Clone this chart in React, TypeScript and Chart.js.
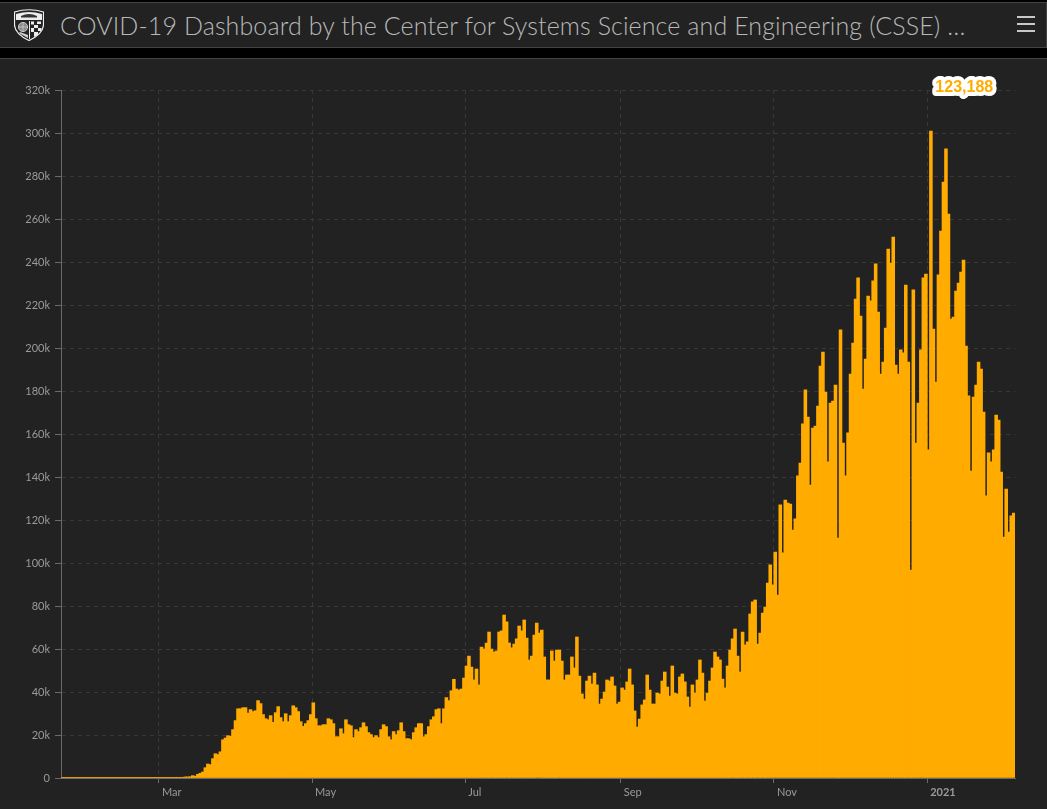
import React, { useEffect, useRef } from "react";
import { Chart, registerables } from "chart.js";

Chart.register(...registerables);

// Daily counts in thousands, first bar = 22 Jan 2020.
const winterCases = [
  0, 0, 0, 0, 0.01, 0, 0, 0, 0, 0.01,
  0, 0, 0, 0, 0.01, 0, 0, 0, 0, 0,
  0, 0, 0, 0, 0, 0, 0, 0, 0, 0,
  0.01, 0, 0, 0, 0.01, 0, 0, 0.01, 0.02, 0.02,
  0.01, 0.02, 0.03, 0.05, 0.05, 0.08, 0.1, 0.12, 0.2,
];
const springCases = [
  0.5, 0.5, 0.6, 1.1, 0.8, 1.7, 2.2, 2.8, 4.8, 6.5,
  6.2, 9.0, 11.3, 10.9, 12.2, 17.8, 18.6, 19.7, 19.4, 22.5,
  26.7, 32.2, 32.2, 32.7, 32.7, 30.2, 31.8, 30.9, 31.3, 36.0,
  34.6, 29.5, 27.6, 27.1, 29.0, 25.9, 30.4, 33.2, 28.1, 26.2,
  29.9, 26.2, 29.0, 33.6, 32.7, 30.9, 26.2, 24.0, 25.3, 26.7,
  29.5, 35.0, 27.6, 24.3, 24.3, 24.8, 24.8, 27.6, 27.1, 25.3,
  19.2, 19.2, 22.9, 20.6, 27.1, 24.8, 24.3, 18.8, 22.5, 21.6,
  23.4, 25.7, 23.9, 21.1, 20.2, 18.8, 19.7, 18.8, 22.5, 24.8,
  23.9, 19.2, 17.8, 21.6, 20.2, 22.0, 25.7, 21.6, 18.3, 18.3,
  17.8, 21.1, 23.4, 25.3, 25.3, 19.2, 20.2, 23.9, 27.1, 28.5,
  31.8, 32.2, 25.3, 32.2, 37.4, 36.0,
];
const summerCases = [
  40.6, 45.9, 41.4, 40.9, 41.4, 46.5, 52.1, 56.7, 51.6, 45.6,
  50.7, 43.3, 60.9, 60.0, 62.8, 67.9, 60.0, 58.6, 59.1, 67.9,
  68.4, 75.8, 72.6, 62.8, 60.5, 62.3, 64.7, 70.7, 68.4, 73.5,
  65.1, 54.9, 56.7, 66.5, 72.1, 67.4, 68.8, 56.3, 45.6, 45.6,
  59.1, 54.4, 59.5, 59.5, 54.4, 45.6, 47.9, 47.9, 56.3, 51.2,
  65.6, 47.4, 39.1, 36.7, 45.1, 47.4, 43.7, 48.8, 43.3, 34.4,
  36.7, 40.0, 45.6, 45.1, 47.0, 42.8, 34.4, 35.3, 41.9, 40.9,
  44.7, 50.7, 43.3, 31.2, 23.7, 27.4, 34.0, 36.3, 47.9, 40.9,
  34.4, 34.4, 39.5, 39.1, 45.1, 49.3, 42.3, 38.1, 52.1, 39.5,
  39.1, 47.0, 48.4, 44.7, 37.7, 33.0, 43.3, 39.5, 45.6, 54.9,
  48.8, 35.8, 39.5, 45.1, 51.2, 58.6, 56.3, 54.9, 46.0, 41.9,
  52.1, 59.5, 64.7, 69.3, 56.7, 49.3, 67.9, 61.9, 63.3, 76.3,
];
const autumnWinterCases = [
  81.9, 82.8, 62.3, 67.4, 76.7, 79.5, 90.7, 99.1, 89.8, 105.1,
  85.1, 127.0, 104.7, 129.3, 127.9, 127.4, 115.3, 120.5, 140.5, 146.5,
  164.7, 180.5, 167.9, 136.3, 162.8, 163.7, 173.0, 191.6, 198.1, 179.5,
  147.0, 174.4, 175.3, 182.8, 111.6, 208.4, 155.8, 140.5, 160.5, 187.9,
  202.3, 222.8, 232.6, 214.9, 180.9, 194.9, 224.2, 221.9, 231.2, 239.1,
  216.7, 187.9, 193.5, 209.3, 246.0, 239.5, 251.6, 192.1, 187.9, 199.1,
  197.7, 229.3, 193.5, 96.7, 227.0, 155.8, 174.4, 199.1, 232.6, 234.4,
  152.6, 300.9, 208.8, 184.2, 234.0, 254.4, 277.2, 292.6, 262.3, 213.5,
  214.4, 226.5, 230.2, 235.3, 240.9, 200.9, 177.7, 142.8, 177.2, 182.8,
  193.5, 190.2, 170.2, 131.2, 151.2, 147.0, 152.6, 168.8, 166.5, 142.3,
  112.1, 134.4, 114.4, 121.9, 123.188,
];
const dailyCases = [...winterCases, ...springCases, ...summerCases, ...autumnWinterCases];

const tickDays = [39, 100, 161, 223, 284, 345];
const tickLabels = ["Mar", "May", "Jul", "Sep", "Nov", "2021"];
const titleText = "COVID-19 Dashboard by the Center for Systems Science and Engineering (CSSE) …";

const FONT = "Lato, 'Open Sans', sans-serif";
const ORANGE = "#ffab00";
const GRID = "#383838";
const AXIS = "#6b6b6b";

const hoverLabel = {
  id: "hoverLabel",
  afterDatasetsDraw(chart: any) {
    const { ctx } = chart;
    const last = dailyCases[dailyCases.length - 1] * 1000;
    const text = Math.round(last).toLocaleString("en-US");
    const x = chart.scales.x.getPixelForValue(359.8);
    const y = chart.scales.y.getPixelForValue(320000) - 2;
    ctx.save();
    ctx.font = "bold 16px 'Liberation Sans', Arial, sans-serif";
    ctx.textAlign = "center";
    ctx.textBaseline = "middle";
    ctx.lineJoin = "round";
    ctx.fillStyle = "#ffffff";
    ctx.beginPath();
    ctx.arc(x - 1, y + 8, 3, 0, Math.PI * 2);
    ctx.fill();
    ctx.lineWidth = 8;
    ctx.strokeStyle = "#ffffff";
    ctx.strokeText(text, x, y);
    ctx.fillStyle = ORANGE;
    ctx.fillText(text, x, y);
    ctx.restore();
  },
};

const axisLine = {
  id: "axisLine",
  beforeDatasetsDraw(c: any) {
    const { ctx, chartArea } = c;
    ctx.save();
    ctx.strokeStyle = AXIS;
    ctx.lineWidth = 1;
    ctx.beginPath();
    ctx.moveTo(chartArea.left + 0.5, chartArea.top);
    ctx.lineTo(chartArea.left + 0.5, chartArea.bottom);
    ctx.stroke();
    ctx.restore();
  },
};

function Logo() {
  return (
    <svg width="30" height="32" viewBox="0 0 30 32" style={{ position: "absolute", left: 14, top: 9 }}>
      <path d="M0.5 3 Q15 -1.5 29.5 3 L29.5 16 Q29 25 15 31.5 Q1 25 0.5 16 Z" fill="#222" stroke="#f0f0f0" strokeWidth="1.2" />
      <path d="M2 5 Q15 1 28 5 L28 11 L2 11 Z" fill="#ececec" />
      <path d="M7 7 Q15 3 23 7 L23 8.5 L7 8.5 Z" fill="#333" />
      <rect x="2" y="11" width="26" height="1" fill="#222" />
      <circle cx="9" cy="18" r="4.6" fill="#8a8a8a" stroke="#e0e0e0" strokeWidth="0.8" />
      <path d="M4.5 18 H13.5 M9 13.5 V22.5" stroke="#ddd" strokeWidth="0.6" />
      <rect x="15" y="12" width="1" height="18" fill="#f0f0f0" />
      <path d="M17 12.5 H20 V15.5 H17 Z M23 12.5 H27 V15 H23 Z M20 16 H24 V19 H20 Z M24 19 H27.5 V22 H24 Z M17 19 H20 V23 H17 Z M20 23 H24 V26 L20 28 Z" fill="#ececec" />
      <path d="M5 24 Q10 27 14 29 L14 26 L6 23 Z" fill="#d0d0d0" />
    </svg>
  );
}

export default function App() {
  const ref = useRef<HTMLCanvasElement>(null);

  useEffect(() => {
    document.body.style.margin = "0";
    document.body.style.background = "#000";
    const chart = new Chart(ref.current as HTMLCanvasElement, {
      type: "bar",
      data: {
        datasets: [
          {
            label: "Daily cases",
            data: dailyCases.map((v, i) => ({ x: i + 0.5, y: v * 1000 })),
            backgroundColor: ORANGE,
            borderWidth: 0,
            barThickness: 2.9,
            minBarLength: 0.7,
          },
        ],
      },
      options: {
        responsive: false,
        animation: false,
        devicePixelRatio: 1,
        layout: { padding: { left: 0, top: 31, right: 32, bottom: 0 } },
        plugins: { legend: { display: false }, tooltip: { enabled: false } },
        scales: {
          x: {
            type: "linear",
            min: 0,
            max: dailyCases.length,
            offset: false,
            afterFit: (s: any) => {
              s.height = 31;
            },
            afterBuildTicks: (s: any) => {
              s.ticks = tickDays.map((value) => ({ value }));
            },
            border: { color: AXIS, width: 1, dash: [4, 4] },
            grid: { offset: false, color: GRID, tickColor: AXIS, tickLength: 5, lineWidth: 1 },
            ticks: {
              autoSkip: false,
              maxRotation: 0,
              align: "start",
              labelOffset: 3,
              padding: 3,
              color: "#9a9a9a",
              font: (c: any) => ({
                family: FONT,
                size: 11,
                weight: tickDays.indexOf(c.tick?.value) === 5 ? "bold" : "normal",
              }),
              callback: (v: any) => tickLabels[tickDays.indexOf(v)] ?? "",
            },
          },
          y: {
            min: 0,
            max: 320000,
            afterFit: (s: any) => {
              s.width = 61;
            },
            border: { color: AXIS, width: 1, dash: [4, 4] },
            grid: { color: GRID, tickColor: AXIS, tickLength: 6, lineWidth: 1 },
            ticks: {
              stepSize: 20000,
              padding: 5,
              color: "#9a9a9a",
              font: { family: FONT, size: 11 },
              callback: (v: any) => (v === 0 ? "0" : `${v / 1000}k`),
            },
          },
        },
      },
      plugins: [hoverLabel, axisLine],
    } as any);
    return () => chart.destroy();
  }, []);

  return (
    <div style={{ position: "absolute", left: 0, top: 0, width: 1047, height: 809, background: "#000", overflow: "hidden" }}>
      <div
        style={{
          position: "absolute",
          left: 0,
          top: 2,
          width: 1046,
          height: 44,
          background: "#222",
          borderTop: "1px solid #444",
          borderBottom: "1px solid #444",
          borderRight: "1px solid #444",
        }}
      />
      <Logo />
      <div
        style={{
          position: "absolute",
          left: 60,
          top: 9,
          fontFamily: FONT,
          fontWeight: 300,
          fontSize: 25,
          letterSpacing: 0.11,
          lineHeight: "32px",
          color: "#b8b8b8",
          whiteSpace: "nowrap",
        }}
      >
        {titleText}
      </div>
      {[16, 23, 30].map((t) => (
        <div key={t} style={{ position: "absolute", left: 1017, top: t, width: 18, height: 2, background: "#c8c8c8" }} />
      ))}
      <div
        style={{
          position: "absolute",
          left: 0,
          top: 58,
          width: 1047,
          height: 751,
          background: "#222",
          borderTop: "1px solid #444",
          boxSizing: "border-box",
        }}
      >
        <canvas ref={ref} width={1047} height={750} style={{ display: "block", width: 1047, height: 750 }} />
      </div>
    </div>
  );
}
